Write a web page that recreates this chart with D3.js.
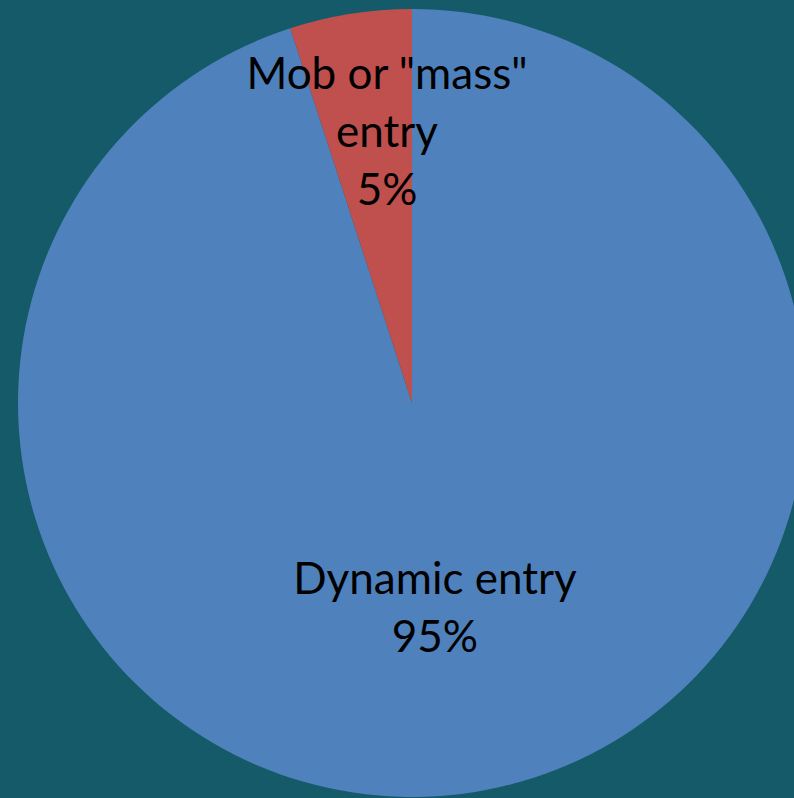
<!DOCTYPE html>
<html>
<head>
<meta charset="utf-8">
<script src="https://cdn.jsdelivr.net/npm/d3@7"></script>
<style>
  html, body { margin: 0; padding: 0; background: #145a69; overflow: hidden; }
  svg { display: block; }
</style>
</head>
<body>
<svg id="chart" width="794" height="798"></svg>
<script>
// Data
var categories = ["Dynamic entry", "Mob or \"mass\" entry"];
var values = [95, 5];
var labelLines = [["Dynamic entry", "95%"], ["Mob or \"mass\"", "entry", "5%"]];
var colors = ["#4f81bd", "#c0504d"];

var width = 794, height = 798;
var cx = 412, cy = 403, radius = 394;

var svg = d3.select("#chart");
svg.append("rect").attr("width", width).attr("height", height).attr("fill", "#145a69");

var g = svg.append("g").attr("transform", "translate(" + cx + "," + cy + ")");

var pie = d3.pie().sort(null).value(function(d) { return d; });
var arcs = pie(values);

var arc = d3.arc().innerRadius(0).outerRadius(radius);

g.selectAll("path.slice")
    .data(arcs)
    .enter().append("path")
    .attr("class", "slice")
    .attr("d", arc)
    .attr("fill", function(d, i) { return colors[i]; });

// label placement: distance as fraction of radius, angle nudge (degrees)
var labelFrac = [0.523, 0.693];
var labelNudge = [2.6, 3.75];

arcs.forEach(function(d, i) {
    var mid = (d.startAngle + d.endAngle) / 2 + labelNudge[i] * Math.PI / 180;
    var r = radius * labelFrac[i];
    var x = Math.sin(mid) * r;
    var y = -Math.cos(mid) * r;
    var lines = labelLines[i];
    var lh = 58;
    var text = g.append("text")
        .attr("text-anchor", "middle")
        .attr("font-family", "Lato, 'Open Sans', sans-serif")
        .attr("font-size", 44)
        .attr("fill", "#000");
    lines.forEach(function(line, j) {
        text.append("tspan")
            .attr("x", x)
            .attr("y", y + (j - (lines.length - 1) / 2) * lh)
            .attr("dy", "0.35em")
            .text(line);
    });
});
</script>
</body>
</html>
